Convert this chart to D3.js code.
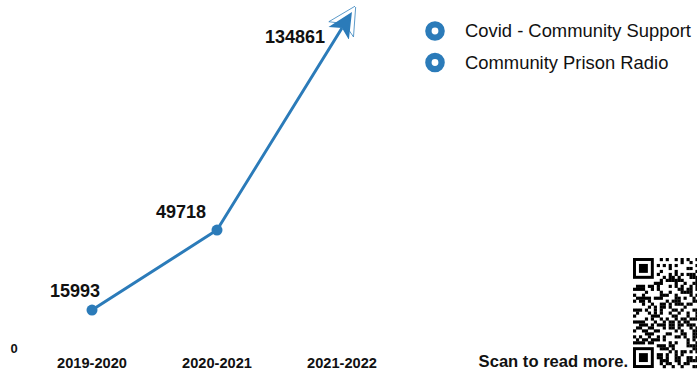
<!DOCTYPE html>
<html><head><meta charset="utf-8">
<script src="https://cdn.jsdelivr.net/npm/d3@7"></script>
<style>body{margin:0;background:#fff}svg{display:block}text{font-family:"Liberation Sans",Arial,Helvetica,sans-serif}</style>
</head><body>
<svg id="c" width="697" height="370"></svg>
<script>
const categories = ["2019-2020", "2020-2021", "2021-2022"];
const values = [15993, 49718, 134861];
const legendLabels = ["Covid - Community Support", "Community Prison Radio"];
const yTickLabels = ["0"];
const labelOffsets = [[-17, -13], [-36, -12], [-47, 15]];
const color = "#2b7bb9";

const svg = d3.select("#c");
const x = d3.scalePoint().domain(categories).range([92, 342]);
const y = d3.scaleLinear().domain([0, d3.max(values)]).range([348, 28]);
const data = categories.map((c, i) => ({c, v: values[i]}));

// x labels
svg.append("g").selectAll("text").data(categories).join("text")
  .attr("x", d => x(d)).attr("y", 368).attr("text-anchor", "middle")
  .attr("font-size", 14.6).attr("font-weight", "bold").attr("fill", "#111").text(d => d);
// y zero label
svg.append("text").attr("x", 14).attr("y", y(0) + 5).attr("text-anchor", "middle")
  .attr("font-size", 13).attr("font-weight", "bold").attr("fill", "#111").text(yTickLabels[0]);

// arrow markers
const defs = svg.append("defs");
defs.append("marker").attr("id", "arr").attr("viewBox", "0 0 10 10")
  .attr("refX", 2).attr("refY", 5).attr("markerWidth", 10.5).attr("markerHeight", 10.5)
  .attr("markerUnits", "strokeWidth").attr("orient", "auto")
  .call(m => {
    m.append("path").attr("d", "M1.5,0.4 L10.3,5 L1.5,9.6 L3.6,5 Z").attr("fill", "#fff").attr("stroke", color).attr("stroke-width", 0.22);
    m.append("path").attr("d", "M0,1.2 L8,5 L0,8.8 L2,5 Z").attr("fill", color);
  });

const line = d3.line().x(d => x(d.c)).y(d => y(d.v));
svg.append("path").datum(data).attr("d", line).attr("fill", "none")
  .attr("stroke", color).attr("stroke-width", 3).attr("marker-end", "url(#arr)");

svg.append("g").selectAll("circle").data(data.slice(0, 2)).join("circle")
  .attr("cx", d => x(d.c)).attr("cy", d => y(d.v)).attr("r", 5.5).attr("fill", color);

svg.append("g").selectAll("text").data(data).join("text")
  .attr("x", (d, i) => x(d.c) + labelOffsets[i][0]).attr("y", (d, i) => y(d.v) + labelOffsets[i][1])
  .attr("text-anchor", "middle").attr("font-size", 18).attr("font-weight", "bold").attr("fill", "#111")
  .text(d => d.v);

// legend
const lg = svg.append("g").selectAll("g").data(legendLabels).join("g")
  .attr("transform", (d, i) => `translate(435,${31 + i * 31.5})`);
lg.append("circle").attr("r", 6.6).attr("fill", "#fff").attr("stroke", color).attr("stroke-width", 6.4);
lg.append("text").attr("x", 30).attr("y", 6).attr("font-size", 18.4).attr("fill", "#111").text(d => d);

// scan text
svg.append("text").attr("x", 628).attr("y", 367).attr("text-anchor", "end")
  .attr("font-size", 16.6).attr("font-weight", "bold").attr("fill", "#111").text("Scan to read more.");

// QR-like decoration
const N = 37, qx = 633, qy = 258, ms = 110 / N;
const qr = svg.append("g");
function finder(cx, cy) {
  qr.append("rect").attr("x", qx + cx * ms).attr("y", qy + cy * ms).attr("width", 7 * ms).attr("height", 7 * ms).attr("fill", "#000");
  qr.append("rect").attr("x", qx + (cx + 1) * ms).attr("y", qy + (cy + 1) * ms).attr("width", 5 * ms).attr("height", 5 * ms).attr("fill", "#fff");
  qr.append("rect").attr("x", qx + (cx + 2) * ms).attr("y", qy + (cy + 2) * ms).attr("width", 3 * ms).attr("height", 3 * ms).attr("fill", "#000");
}
const cells = [];
for (let r = 0; r < N; r++) for (let c = 0; c < N; c++) {
  const inF = (r < 8 && c < 8) || (r < 8 && c > N - 9) || (r > N - 9 && c < 8);
  if (inF) continue;
  const h = ((r * 73856093) ^ (c * 19349663) ^ (r * c * 83492791)) >>> 0;
  if ((h % 7) < 3) cells.push([r, c]);
}
qr.selectAll("rect.m").data(cells).join("rect").attr("class", "m")
  .attr("x", d => qx + d[1] * ms).attr("y", d => qy + d[0] * ms)
  .attr("width", ms + 0.2).attr("height", ms + 0.2).attr("fill", "#000");
finder(0, 0); finder(N - 7, 0); finder(0, N - 7);
</script>
</body></html>
